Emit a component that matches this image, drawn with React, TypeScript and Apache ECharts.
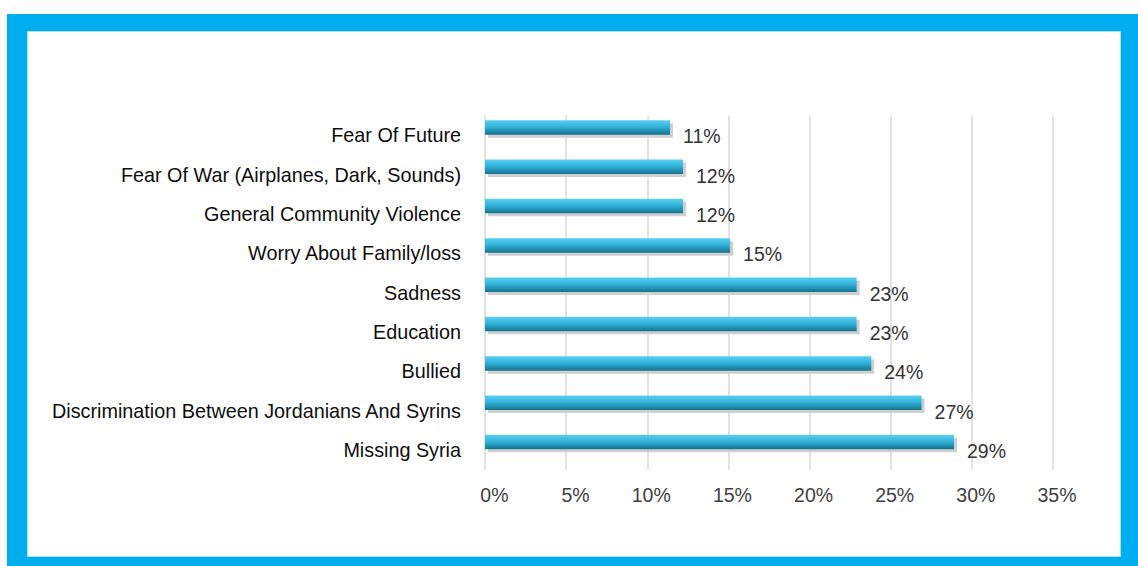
import React, { useEffect, useRef } from "react";
import * as echarts from "echarts";

const categories = [
  "Fear Of Future",
  "Fear Of War (Airplanes, Dark, Sounds)",
  "General Community Violence",
  "Worry About Family/loss",
  "Sadness",
  "Education",
  "Bullied",
  "Discrimination Between Jordanians And Syrins",
  "Missing Syria",
];
const values = [11.4, 12.2, 12.2, 15.1, 22.9, 22.9, 23.8, 26.9, 28.9];
const valueLabels = ["11%", "12%", "12%", "15%", "23%", "23%", "24%", "27%", "29%"];
const axisMin = 0;
const axisMax = 35;
const axisInterval = 5;

const FONT = "'Liberation Sans', Arial, sans-serif";

export default function App() {
  const ref = useRef<HTMLDivElement>(null);
  useEffect(() => {
    document.body.style.margin = "0";
    const chart = echarts.init(ref.current!, null, { renderer: "svg" });
    const barGrad = new echarts.graphic.LinearGradient(0, 0, 0, 1, [
      { offset: 0, color: "#5BCFF1" },
      { offset: 0.45, color: "#33B3DB" },
      { offset: 1, color: "#15728F" },
    ]);
    chart.setOption({
      animation: false,
      grid: { left: 485, right: 85, top: 115.5, height: 354, containLabel: false },
      xAxis: {
        type: "value",
        min: axisMin,
        max: axisMax,
        interval: axisInterval,
        axisLine: { show: false },
        axisTick: { show: false },
        splitLine: { show: true, lineStyle: { color: "#D9D9D9", width: 1.5 } },
        axisLabel: {
          formatter: "{value}%",
          fontFamily: FONT,
          fontSize: 19.5,
          color: "#404040",
          margin: 15,
          align: "right",
          padding: [0, -23.5, 0, 0],
        },
      },
      yAxis: {
        type: "category",
        data: categories,
        inverse: true,
        axisLine: { show: false },
        axisTick: { show: false },
        splitLine: { show: false },
        axisLabel: {
          fontFamily: FONT,
          fontSize: 19.8,
          color: "#0D0D0D",
          margin: 24,
          padding: [0, 0, 3, 0],
        },
      },
      series: [
        {
          type: "custom",
          encode: { x: 0, y: 1 },
          data: values.map((v, i) => [v, i]),
          renderItem: (params: any, api: any) => {
            const idx = api.value(1);
            const v = api.value(0);
            const end = api.coord([v, idx]);
            const start = api.coord([0, idx]);
            const cy = end[1];
            const top = cy - 15;
            const h = 14.5;
            const w = end[0] - start[0];
            return {
              type: "group",
              children: [
                {
                  type: "rect",
                  shape: { x: start[0] + 3, y: top + 3, width: w, height: h },
                  style: { fill: "#CFCFCF" },
                },
                {
                  type: "rect",
                  shape: { x: start[0], y: top, width: w, height: h },
                  style: { fill: barGrad },
                },
                {
                  type: "text",
                  x: end[0] + 13,
                  y: cy + 1,
                  style: {
                    text: valueLabels[idx],
                    fontFamily: FONT,
                    fontSize: 19.5,
                    fill: "#333333",
                    align: "left",
                    verticalAlign: "middle",
                  },
                },
              ],
            };
          },
        },
      ],
    });
    return () => chart.dispose();
  }, []);
  return (
    <div style={{ position: "absolute", left: 0, top: 0, width: 1138, height: 566, background: "#fff" }}>
      <div style={{ position: "absolute", left: 7, top: 14, width: 1131, height: 552, background: "#00AEEF" }} />
      <div
        style={{
          position: "absolute",
          left: 27,
          top: 31,
          width: 1094,
          height: 526,
          background: "#fff",
          boxSizing: "border-box",
          border: "1px solid #A8E3F8",
        }}
      />
      <div ref={ref} style={{ position: "absolute", left: 0, top: 0, width: 1138, height: 566 }} />
    </div>
  );
}
